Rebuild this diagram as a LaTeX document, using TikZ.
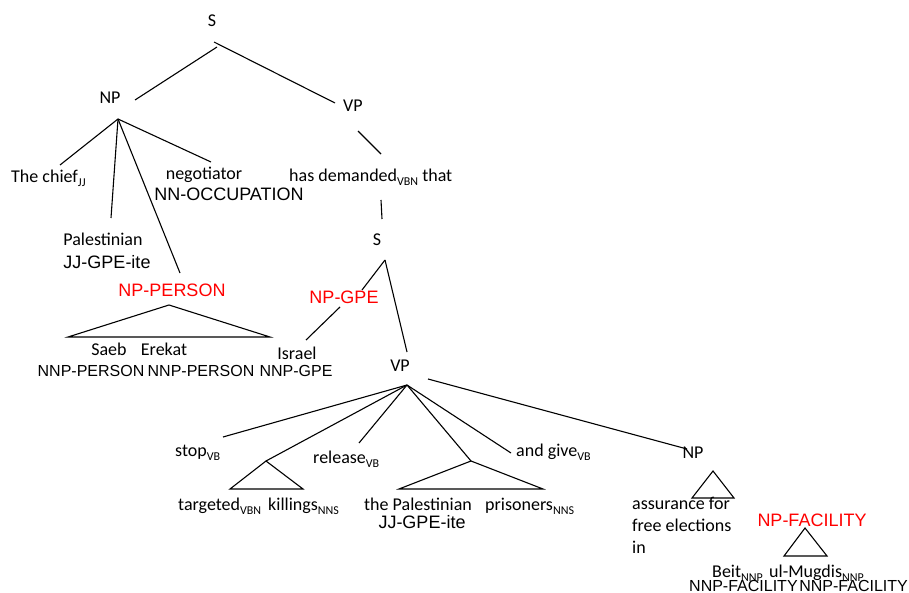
\documentclass[tikz,border=0pt]{standalone}
\usepackage{fontspec}
\setmainfont{Carlito}
\newfontfamily\tagfont{Liberation Sans}
\newcommand{\tsub}[1]{\raisebox{-4pt}{\fontsize{12}{12}\selectfont #1}}
\definecolor{entred}{RGB}{255,0,0}
\begin{document}
\begin{tikzpicture}[x=1pt,y=-1pt,
  word/.style={font=\fontsize{18}{22}\selectfont, inner sep=0pt, anchor=base},
  tag/.style={font=\tagfont\fontsize{18}{22}\selectfont, inner sep=0pt, anchor=base},
  smalltag/.style={font=\tagfont\fontsize{16}{20}\selectfont, inner sep=0pt, anchor=base},
  ent/.style={tag, text=entred},
  edge/.style={line width=1.1pt, line join=miter}]
\useasboundingbox (0,0) rectangle (909,593);
% ---- nodes
\node[word] (S) at (212,27) {S};
\node[word] (NP) at (110,104) {NP};
\node[word] (VP) at (353,112) {VP};
\node[word,anchor=base west] (chief) at (11,183) {The chief\tsub{JJ}};
\node[word] (negot) at (204,180) {negotiator};
\node[tag] (negtag) at (229,201) {NN-OCCUPATION};
\node[word,anchor=base west] (hasdem) at (289,182) {has demanded\tsub{VBN} that};
\node[word] (pal) at (103,246) {Palestinian};
\node[tag] (paltag) at (107,269) {JJ-GPE-ite};
\node[ent] (npper) at (172,296) {NP-PERSON};
\node[word] (S2) at (377,246) {S};
\node[ent] (npgpe) at (344,303) {NP-GPE};
\node[word] (saeb) at (109,355) {Saeb};
\node[word] (erekat) at (164,355) {Erekat};
\node[word] (israel) at (297,359) {Israel};
\node[smalltag] (saebtag) at (91,376) {NNP-PERSON};
\node[smalltag] (erekattag) at (201,376) {NNP-PERSON};
\node[smalltag] (israeltag) at (296,376) {NNP-GPE};
\node[word] (VP2) at (400,371) {VP};
\node[word,anchor=base west] (stop) at (175,456) {stop\tsub{VB}};
\node[word,anchor=base west] (release) at (313,463) {release\tsub{VB}};
\node[word,anchor=base west] (andgive) at (516,456) {and give\tsub{VB}};
\node[word,anchor=base west] (targeted) at (178,510) {targeted\tsub{VBN}};
\node[word,anchor=base west] (killings) at (268,510) {killings\tsub{NNS}};
\node[word,anchor=base west] (thepal) at (364,510) {the Palestinian};
\node[word,anchor=base west] (prisoners) at (485,510) {prisoners\tsub{NNS}};
\node[tag] (thepaltag) at (422,528) {JJ-GPE-ite};
\node[word] (NP3) at (693,458) {NP};
\node[word,anchor=base west] (assur) at (632,509)
  {\renewcommand{\arraystretch}{1.02}\begin{tabular}[t]{@{}l@{}}assurance for\\ free elections\\ in\end{tabular}};
\node[ent] (npfac) at (812,526) {NP-FACILITY};
\node[word,anchor=base west] (beit) at (712,577) {Beit\tsub{NNP}};
\node[word,anchor=base west] (mugdis) at (769,577) {ul-Mugdis\tsub{NNP}};
\node[smalltag,anchor=base west] (beittag) at (689,591) {NNP-FACILITY};
\node[smalltag,anchor=base east] (mugdistag) at (908,591) {NNP-FACILITY};
% ---- connector end points
\coordinate (S-a) at (217,47);   \coordinate (NP-a) at (135,100);
\coordinate (S-b) at (214,42);   \coordinate (VP-a) at (335,103);
\coordinate (NP-o) at (118,119);
\coordinate (chief-t) at (60,165);
\coordinate (pal-t) at (111,218);
\coordinate (npper-t) at (180,273);
\coordinate (negot-t) at (211,162);
\coordinate (VP-o) at (358,131); \coordinate (hasdem-t) at (381,154);
\coordinate (hasdem-b) at (381,200); \coordinate (S2-t) at (382,219);
\coordinate (S2-o) at (385,260);
\coordinate (npgpe-t) at (362,290);
\coordinate (VP2-t) at (407,352);
\coordinate (npgpe-o) at (340,307); \coordinate (israel-t) at (306,340);
\coordinate (perA) at (169,305); \coordinate (perL) at (68,337); \coordinate (perR) at (270,337);
\coordinate (VP2-o) at (407,385);
\coordinate (VP2-r) at (428,379);
\coordinate (stop-t) at (223,437);
\coordinate (t1A) at (266,461); \coordinate (t1L) at (230,489); \coordinate (t1R) at (303,489);
\coordinate (release-t) at (359,443);
\coordinate (t2A) at (471,461); \coordinate (t2L) at (399,489); \coordinate (t2R) at (543,489);
\coordinate (andgive-t) at (511,453);
\coordinate (NP3-t) at (687,449);
\coordinate (t3A) at (713,471); \coordinate (t3L) at (692,498); \coordinate (t3R) at (734,498);
\coordinate (t4A) at (805,528); \coordinate (t4L) at (784,556); \coordinate (t4R) at (827,556);
% ---- connectors
\draw[edge] (S-a) -- (NP-a);
\draw[edge] (S-b) -- (VP-a);
\draw[edge] (NP-o) -- (chief-t);
\draw[edge] (NP-o) -- (pal-t);
\draw[edge] (NP-o) -- (npper-t);
\draw[edge] (NP-o) -- (negot-t);
\draw[edge] (VP-o) -- (hasdem-t);
\draw[edge] (hasdem-b) -- (S2-t);
\draw[edge] (S2-o) -- (npgpe-t);
\draw[edge] (S2-o) -- (VP2-t);
\draw[edge] (npgpe-o) -- (israel-t);
\draw[edge] (perL) -- (perA) -- (perR) -- cycle;
\draw[edge] (VP2-o) -- (stop-t);
\draw[edge] (VP2-o) -- (t1A);
\draw[edge] (VP2-o) -- (release-t);
\draw[edge] (VP2-o) -- (t2A);
\draw[edge] (VP2-o) -- (andgive-t);
\draw[edge] (VP2-r) -- (NP3-t);
\draw[edge] (t1L) -- (t1A) -- (t1R) -- cycle;
\draw[edge] (t2L) -- (t2A) -- (t2R) -- cycle;
\draw[edge] (t3L) -- (t3A) -- (t3R) -- cycle;
\draw[edge] (t4L) -- (t4A) -- (t4R) -- cycle;
\end{tikzpicture}
\end{document}
